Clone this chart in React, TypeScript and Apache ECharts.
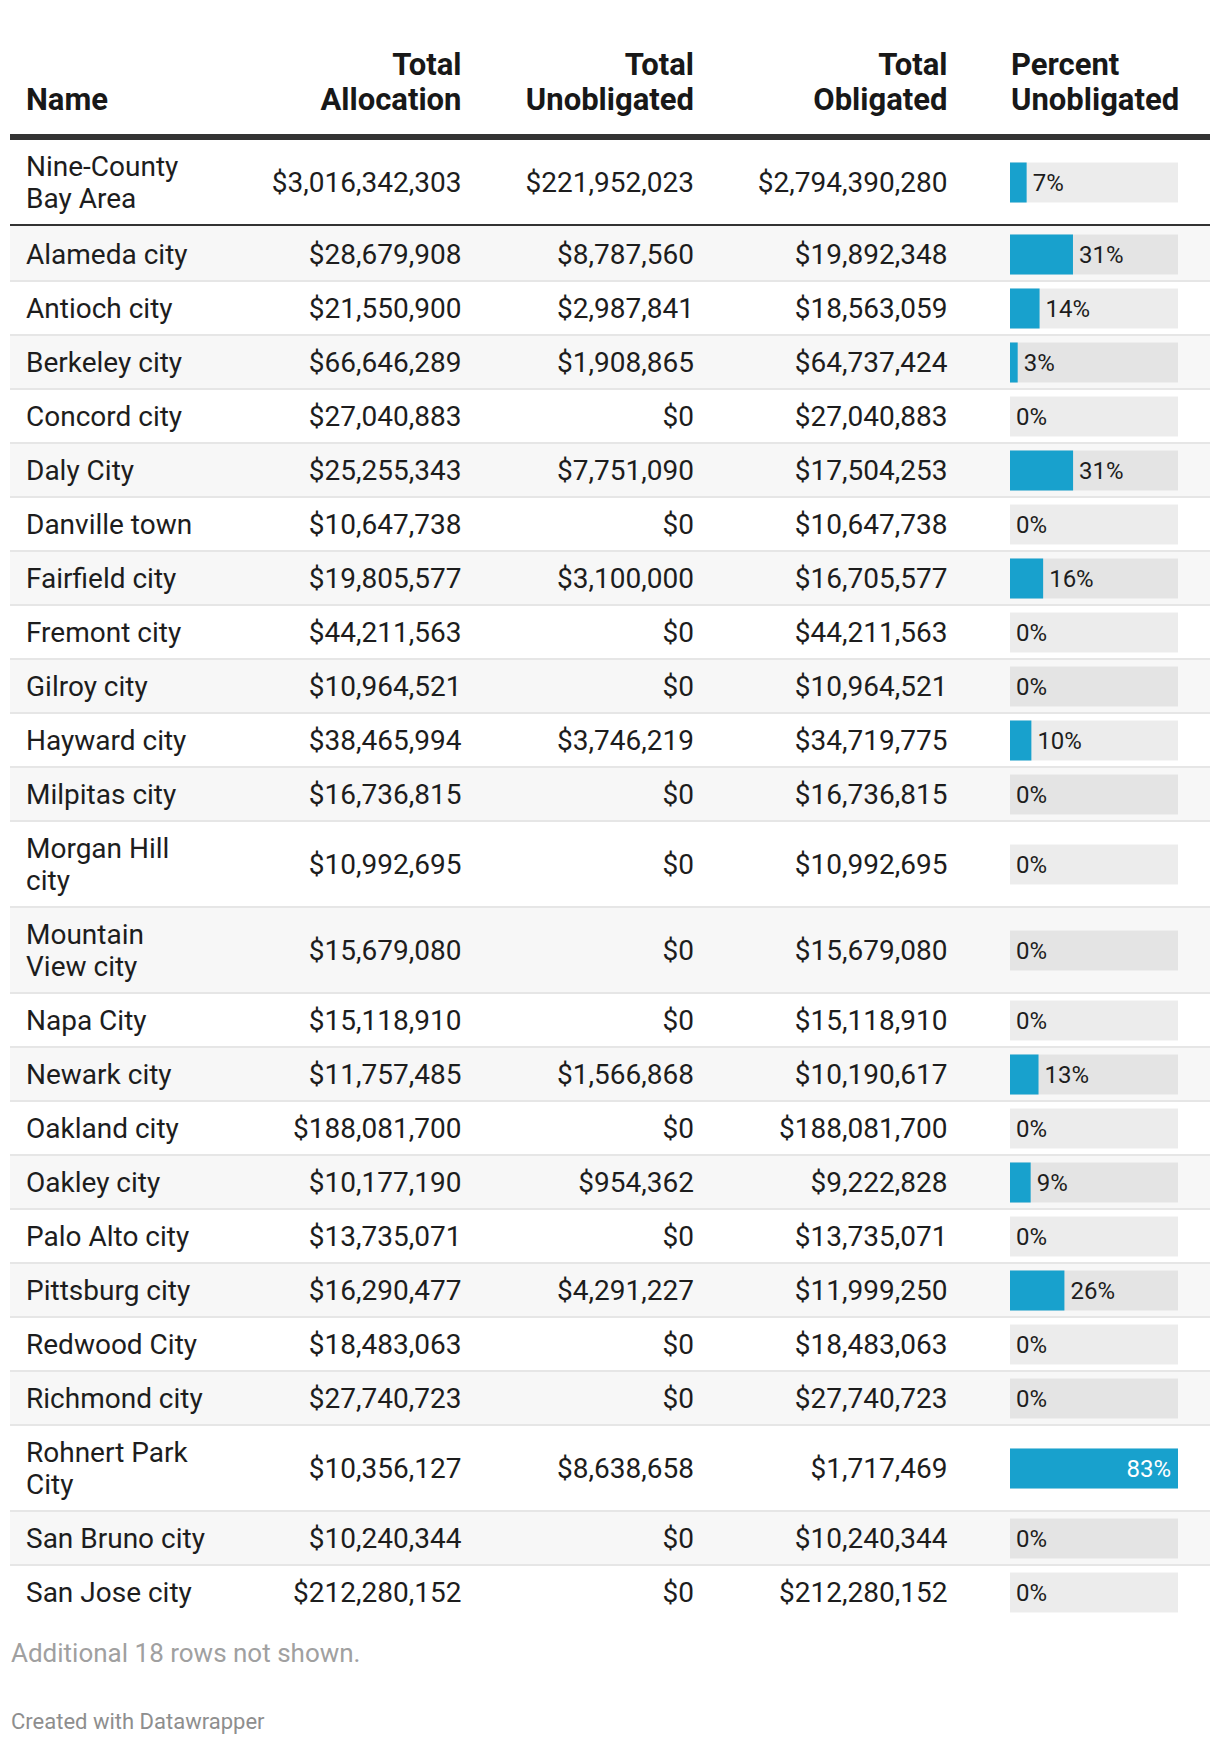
import React, { useEffect, useRef } from "react";
import * as echarts from "echarts";

const names: string[] = [
  "Nine-County\nBay Area",
  "Alameda city",
  "Antioch city",
  "Berkeley city",
  "Concord city",
  "Daly City",
  "Danville town",
  "Fairfield city",
  "Fremont city",
  "Gilroy city",
  "Hayward city",
  "Milpitas city",
  "Morgan Hill\ncity",
  "Mountain\nView city",
  "Napa City",
  "Newark city",
  "Oakland city",
  "Oakley city",
  "Palo Alto city",
  "Pittsburg city",
  "Redwood City",
  "Richmond city",
  "Rohnert Park\nCity",
  "San Bruno city",
  "San Jose city",
];

const totalAllocation: number[] = [
  3016342303, 28679908, 21550900, 66646289, 27040883, 25255343, 10647738,
  19805577, 44211563, 10964521, 38465994, 16736815, 10992695, 15679080,
  15118910, 11757485, 188081700, 10177190, 13735071, 16290477, 18483063,
  27740723, 10356127, 10240344, 212280152,
];

const totalUnobligated: number[] = [
  221952023, 8787560, 2987841, 1908865, 0, 7751090, 0, 3100000, 0, 0, 3746219,
  0, 0, 0, 0, 1566868, 0, 954362, 0, 4291227, 0, 0, 8638658, 0, 0,
];

const totalObligated: number[] = [
  2794390280, 19892348, 18563059, 64737424, 27040883, 17504253, 10647738,
  16705577, 44211563, 10964521, 34719775, 16736815, 10992695, 15679080,
  15118910, 10190617, 188081700, 9222828, 13735071, 11999250, 18483063,
  27740723, 1717469, 10240344, 212280152,
];

const percentUnobligated: number[] = [
  7.36, 30.64, 13.86, 2.86, 0, 30.69, 0, 15.65, 0, 0, 9.74, 0, 0, 0, 0, 13.33,
  0, 9.38, 0, 26.34, 0, 0, 83.41, 0, 0,
];

const headers: string[] = [
  "Name",
  "Total\nAllocation",
  "Total\nUnobligated",
  "Total\nObligated",
  "Percent\nUnobligated",
];

const footnote = "Additional 18 rows not shown.";
const credit = "Created with Datawrapper";

const FONT = "Roboto, 'Noto Sans', sans-serif";
const TEXT = "#1d1d1d";
const BLUE = "#18a1cd";
const TABLE_LEFT = 10;
const TABLE_RIGHT = 1210;
const NAME_X = 26;
const COL_RIGHT = [461.5, 694, 947.5];
const PCT_LEFT = 1011;
const BODY_TOP = 140;
const LINE_H = 32;
const ROW_H = 54;

const fmt = (v: number) => "$" + v.toLocaleString("en-US");

export default function App() {
  const ref = useRef<HTMLDivElement>(null);

  useEffect(() => {
    document.body.style.margin = "0";
    if (!ref.current) return;
    const chart = echarts.init(ref.current, undefined, { renderer: "svg" });

    // row layout from line counts
    const tops: number[] = [];
    const pitches: number[] = [];
    let acc = 0;
    names.forEach((n, i) => {
      const lines = n.split("\n").length;
      const pitch = ROW_H + (lines - 1) * LINE_H + (i === 0 ? 2 : 0);
      tops.push(acc);
      pitches.push(pitch);
      acc += pitch;
    });
    const total = acc;
    const last = names.length - 1;

    const data = names.map((_, i) => [percentUnobligated[i], tops[i], pitches[i], i]);
    const maxPct = Math.max(...percentUnobligated);
    const minPct = -1;

    const headerGraphics: any[] = headers.map((h, k) => {
      const lines = h.split("\n").length;
      const isLeft = k === 0 || k === 4;
      const x = k === 0 ? NAME_X : k === 4 ? PCT_LEFT : COL_RIGHT[k - 1];
      return {
        type: "text",
        x,
        y: 99 - ((lines - 1) * 35) / 2,
        style: {
          text: h,
          font: `bold 31px ${FONT}`,
          lineHeight: 35,
          fill: "#181818",
          align: isLeft ? "left" : "right",
          verticalAlign: "middle",
        },
      };
    });

    const option: any = {
      animation: false,
      grid: { left: 1010, right: 1220 - 1178, top: BODY_TOP, height: total },
      xAxis: { type: "value", min: minPct, max: "dataMax", show: false },
      yAxis: { type: "value", min: 0, max: total, inverse: true, show: false },
      graphic: [
        ...headerGraphics,
        {
          type: "rect",
          shape: { x: TABLE_LEFT, y: 134, width: TABLE_RIGHT - TABLE_LEFT, height: 6 },
          style: { fill: "#333333" },
        },
        {
          type: "text",
          x: 11,
          y: 1653,
          style: {
            text: footnote,
            font: `26px ${FONT}`,
            fill: "#a0a0a0",
            verticalAlign: "middle",
          },
        },
        {
          type: "text",
          x: 11,
          y: 1721,
          style: {
            text: credit,
            font: `22px ${FONT}`,
            fill: "#8e8e8e",
            verticalAlign: "middle",
          },
        },
      ],
      series: [
        {
          type: "custom",
          clip: false,
          encode: { x: 0, y: 1 },
          data,
          renderItem: (params: any, api: any) => {
            const pct = api.value(0);
            const top = api.value(1);
            const pitch = api.value(2);
            const i = api.value(3);
            const contentH = i === 0 ? pitch - 4 : pitch - 2;
            const yTop = api.coord([0, top])[1];
            const yContentBot = api.coord([0, top + contentH])[1];
            const yBot = api.coord([0, top + pitch])[1];
            const x0 = api.coord([minPct, top])[0];
            const xMax = api.coord([maxPct, top])[0];
            const xv = api.coord([pct, top])[0];
            const cy = (yTop + yContentBot) / 2 + 0.5;
            const children: any[] = [];
            const grey = i > 0 && i % 2 === 1;
            children.push({
              type: "rect",
              shape: {
                x: TABLE_LEFT,
                y: yTop - (i === 1 ? 2 : 0),
                width: TABLE_RIGHT - TABLE_LEFT,
                height: yContentBot - yTop + (i === 1 ? 2 : 0),
              },
              style: { fill: grey ? "#f7f7f7" : "#ffffff" },
            });
            if (i === 0) {
              children.push({
                type: "rect",
                shape: { x: TABLE_LEFT, y: yContentBot, width: TABLE_RIGHT - TABLE_LEFT, height: 2 },
                style: { fill: "#333333" },
              });
            } else if (i !== last) {
              children.push({
                type: "rect",
                shape: { x: TABLE_LEFT, y: yContentBot, width: TABLE_RIGHT - TABLE_LEFT, height: yBot - yContentBot },
                style: { fill: "#e6e6e6" },
              });
            }
            children.push({
              type: "text",
              x: NAME_X,
              y: cy,
              style: {
                text: names[i],
                font: `28px ${FONT}`,
                lineHeight: LINE_H,
                fill: TEXT,
                align: "left",
                verticalAlign: "middle",
              },
            });
            const vals = [totalAllocation[i], totalUnobligated[i], totalObligated[i]];
            vals.forEach((v, k) => {
              children.push({
                type: "text",
                x: COL_RIGHT[k],
                y: cy,
                style: {
                  text: fmt(v),
                  font: `28px ${FONT}`,
                  fill: TEXT,
                  align: "right",
                  verticalAlign: "middle",
                },
              });
            });
            children.push({
              type: "rect",
              shape: { x: x0, y: cy - 20, width: xMax - x0, height: 40 },
              style: { fill: "rgba(0,0,0,0.075)" },
            });
            const hasBar = pct > 0;
            if (hasBar) {
              children.push({
                type: "rect",
                shape: { x: x0, y: cy - 20, width: xv - x0, height: 40 },
                style: { fill: BLUE },
              });
            }
            const inside = pct / maxPct > 0.6;
            children.push({
              type: "text",
              x: inside ? xv - 7 : (hasBar ? xv : x0) + 6,
              y: cy,
              style: {
                text: Math.round(pct) + "%",
                font: `24px ${FONT}`,
                fill: inside ? "#ffffff" : TEXT,
                align: inside ? "right" : "left",
                verticalAlign: "middle",
              },
            });
            return { type: "group", children };
          },
        },
      ],
    };

    chart.setOption(option);
    return () => chart.dispose();
  }, []);

  return <div ref={ref} style={{ width: 1220, height: 1744, background: "#ffffff" }} />;
}
